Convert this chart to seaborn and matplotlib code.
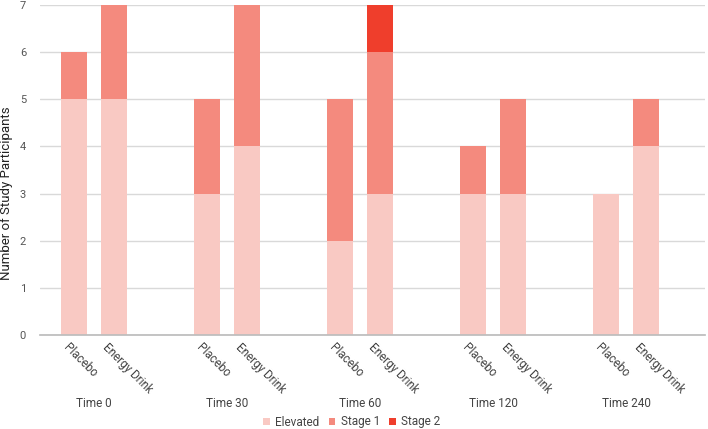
import numpy as np
import pandas as pd
import matplotlib
matplotlib.use('Agg')
import matplotlib.pyplot as plt
import matplotlib.transforms as mtransforms
from matplotlib.patches import Patch
import seaborn as sns

# data
times = ['Time 0', 'Time 30', 'Time 60', 'Time 120', 'Time 240']
drinks = ['Placebo', 'Energy Drink']
elevated = [5, 5, 3, 4, 2, 3, 3, 3, 3, 4]
stage1 = [1, 2, 2, 3, 3, 3, 1, 2, 0, 1]
stage2 = [0, 0, 0, 0, 0, 1, 0, 0, 0, 0]

colors = {'Elevated': '#f9c9c3', 'Stage 1': '#f48a7e', 'Stage 2': '#ef3e2c'}

# --------------
# frame with cumulative heights for stacking
# --------------
group_step = 3.325
pos = []
labels = []
for g, t in enumerate(times):
    for k, d in enumerate(drinks):
        pos.append(g * group_step + k)
        labels.append(d)

df = pd.DataFrame({
    'pos': pos,
    'drink': labels,
    'elevated': elevated,
    'stage1': stage1,
    'stage2': stage2,
})
df['cum1'] = df['elevated']
df['cum2'] = df['cum1'] + df['stage1']
df['cum3'] = df['cum2'] + df['stage2']

sns.set_theme(style='white')
plt.rcParams['font.family'] = ['Roboto', 'DejaVu Sans']

fig = plt.figure(figsize=(7.08, 4.29), dpi=100)
ax = fig.add_axes([40 / 708, 1 - 335 / 429, 665 / 708, 330 / 429])

# draw from the top of the stack down
for col, name in [('cum3', 'Stage 2'), ('cum2', 'Stage 1'), ('cum1', 'Elevated')]:
    sns.barplot(data=df, x='pos', y=col, native_scale=True, width=0.65,
                color=colors[name], saturation=1, errorbar=None, ax=ax,
                linewidth=0)

ax.set_ylim(0, 7)
ax.set_yticks(range(0, 8))
ax.set_xlim(-0.85, 4 * group_step + 1 + 1.475)
ax.yaxis.grid(True, color='#d9d9d9', linewidth=1)
ax.set_axisbelow(True)
for s in ['top', 'right', 'left']:
    ax.spines[s].set_visible(False)
ax.spines['bottom'].set_color('#bdbdbd')
ax.tick_params(axis='y', length=0, labelsize=8, labelcolor='#555555', pad=10)
ax.tick_params(axis='x', length=0, labelsize=8.5, labelcolor='#444444', pad=4)

ax.set_xticks(df['pos'])
ax.set_xticklabels(df['drink'], rotation=-45, ha='left', va='center',
                   rotation_mode='anchor')
offset = mtransforms.ScaledTranslation(-9 / 100, -5 / 100, fig.dpi_scale_trans)
for lab in ax.get_xticklabels():
    lab.set_transform(lab.get_transform() + offset)

ax.set_xlabel('')
ax.set_ylabel('Number of Study Participants', fontsize=9.5, color='#222222')
ax.yaxis.set_label_coords(-0.041, 0.43)

# group labels under each pair
trans = mtransforms.blended_transform_factory(ax.transData, ax.transAxes)
for g, t in enumerate(times):
    ax.text(g * group_step + 0.5, -0.209, t, transform=trans, ha='center',
            va='center', fontsize=8.5, color='#444444')

handles = [Patch(facecolor=colors[n], edgecolor='none', label=n)
           for n in ['Elevated', 'Stage 1', 'Stage 2']]
fig.legend(handles=handles, loc='center', bbox_to_anchor=(0.497, 1 - 422 / 429),
           ncol=3, frameon=False, fontsize=8.5, handlelength=0.55,
           handleheight=0.55, handletextpad=0.45, columnspacing=0.8,
           labelcolor='#444444')

fig.savefig('out.png', dpi=100)
